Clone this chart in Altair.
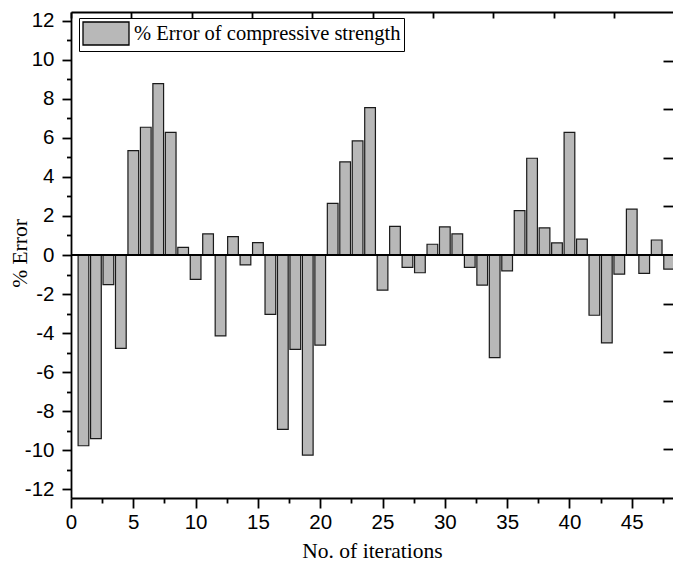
import altair as alt
import pandas as pd

# ---- data ----
iterations = list(range(1, 49))
errors = [-9.78, -9.42, -1.52, -4.79, 5.35, 6.55, 8.79, 6.29, 0.39, -1.25,
          1.08, -4.15, 0.94, -0.51, 0.63, -3.04, -8.94, -4.84, -10.26, -4.62,
          2.65, 4.77, 5.85, 7.56, -1.80, 1.47, -0.63, -0.91, 0.55, 1.44,
          1.08, -0.63, -1.54, -5.26, -0.81, 2.28, 4.96, 1.39, 0.62, 6.29,
          0.81, -3.09, -4.51, -0.98, 2.35, -0.94, 0.77, -0.72]
series_name = "% Error of compressive strength"
x_tick_values = [i * 2.5 for i in range(0, 20)]      # 0 .. 47.5
y_tick_values = list(range(-12, 13))                 # -12 .. 12
top_tick_values = list(range(0, 10))                 # twin axis (top)
right_tick_values = list(range(1, 10))               # twin axis (right)

df = pd.DataFrame({"iter": iterations, "err": errors,
                   "series": [series_name] * len(iterations)})
frame_df = pd.DataFrame({"tx": [0, 9], "ry": [0, 10]})

HALF = 0.43
BAR_FILL = "#b8b8b8"
LINE_W = 1.8
xscale = alt.Scale(domain=[0, 48.31], nice=False, zero=False)
yscale = alt.Scale(domain=[-12.46, 12.46], nice=False, zero=False)

x_axis = alt.Axis(
    values=x_tick_values,
    labelExpr="datum.value % 5 === 0 ? '' + datum.value : ''",
    tickSize={"condition": {"test": "datum.value % 5 === 0", "value": 10}, "value": 5},
    tickColor="black", tickWidth=LINE_W, domainColor="black", domainWidth=LINE_W,
    labelFont="Liberation Sans", labelFontSize=20.5, labelColor="black",
    labelPadding=4, labelFlush=False, labelOverlap=False,
    titleFont="Liberation Serif", titleFontSize=21.5, titleFontWeight="normal",
    titleColor="black", titleBaseline="alphabetic", titleY=59, grid=False,
)
y_axis = alt.Axis(
    values=y_tick_values,
    labelExpr="datum.value % 2 === 0 ? '' + datum.value : ''",
    tickSize={"condition": {"test": "datum.value % 2 === 0", "value": 9}, "value": 4.5},
    tickColor="black", tickWidth=LINE_W, domainColor="black", domainWidth=LINE_W,
    labelFont="Liberation Sans", labelFontSize=20.5, labelColor="black",
    labelPadding=8, labelFlush=False, labelOverlap=False,
    titleFont="Liberation Serif", titleFontSize=21.5, titleFontWeight="normal",
    titleColor="black", titleAngle=270, titleBaseline="middle", titleAlign="center",
    titleX=-51, titleY=241, grid=False,
)

legend = alt.Legend(
    orient="none", legendX=8, legendY=6, title=None,
    symbolType="M-1,-1H3V1H-1Z", symbolSize=529,
    symbolStrokeColor="black", symbolStrokeWidth=1.3, symbolFillColor=BAR_FILL,
    symbolOpacity=1,
    labelFont="Liberation Serif", labelFontSize=20.5, labelColor="black",
    labelOffset=27, labelLimit=400,
    strokeColor="black", fillColor="white", padding=3,
)

bars = alt.Chart(df).transform_calculate(
    x0=f"datum.iter - {HALF}", x1=f"datum.iter + {HALF}"
).mark_bar(stroke="#1a1a1a", strokeWidth=1.2, opacity=1).encode(
    x=alt.X("x0:Q", scale=xscale, axis=x_axis, title="No. of iterations"),
    x2="x1:Q",
    y=alt.Y("err:Q", scale=yscale, axis=y_axis, title="% Error"),
    y2=alt.Y2Datum(0),
    color=alt.Color("series:N", scale=alt.Scale(range=[BAR_FILL]), legend=legend),
)

zero = alt.Chart(df).mark_rule(color="black", strokeWidth=1.5).encode(
    y=alt.YDatum(0, scale=yscale, axis=None),
)

frame = alt.Chart(frame_df).mark_point(opacity=0).encode(
    x=alt.X("tx:Q", scale=alt.Scale(domain=[0, 9.98], nice=False, zero=False),
            axis=alt.Axis(orient="top", values=top_tick_values, labels=False,
                          tickSize={"expr": "-6"}, tickColor="black", tickWidth=LINE_W,
                          domain=True, domainColor="black", domainWidth=LINE_W,
                          title=None, grid=False)),
    y=alt.Y("ry:Q", scale=alt.Scale(domain=[0, 10], nice=False, zero=False),
            axis=alt.Axis(orient="right", values=right_tick_values, labels=False,
                          tickSize={"expr": "-10"}, tickColor="black", tickWidth=LINE_W,
                          domain=False, title=None, grid=False)),
)

chart = alt.layer(bars, zero, frame).resolve_scale(
    x="independent", y="independent"
).properties(
    width=602, height=486,
    autosize=alt.AutoSizeParams(type="none"),
    padding={"left": 71, "top": 12, "right": 0, "bottom": 65},
    background="white",
).configure_view(stroke=None)

chart.save("out.html", embed_options={"renderer": "svg", "actions": False})
